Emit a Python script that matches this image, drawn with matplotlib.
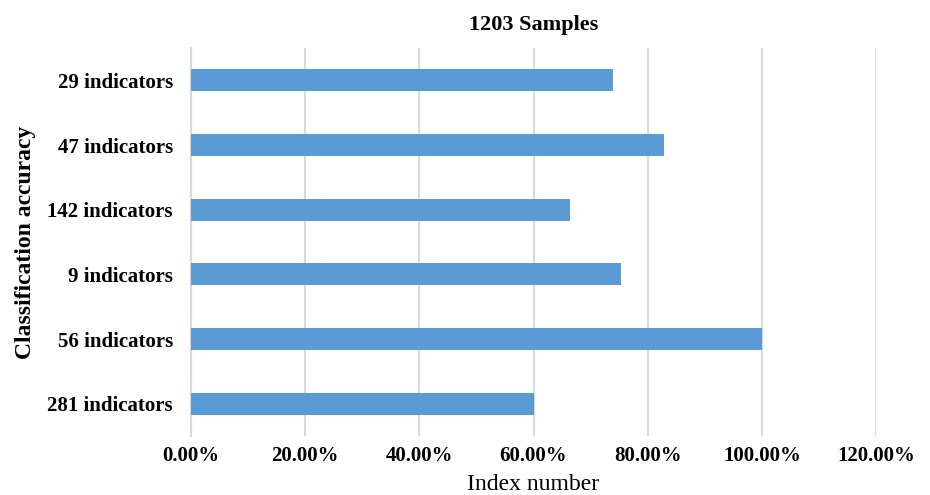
import matplotlib.pyplot as plt
from matplotlib.ticker import PercentFormatter

plt.rcParams['font.family'] = ['Liberation Serif', 'DejaVu Serif']

categories = ["29 indicators", "47 indicators", "142 indicators",
              "9 indicators", "56 indicators", "281 indicators"]
accuracy = [0.740, 0.829, 0.663, 0.753, 1.000, 0.600]
x_ticks = [0, 0.2, 0.4, 0.6, 0.8, 1.0, 1.2]

fig = plt.figure(figsize=(9.3, 4.95), dpi=100)
ax = fig.add_axes([0.2054, 0.119, 0.7366, 0.784])

ypos = list(range(len(categories)))
ax.barh(ypos, accuracy, height=0.34, color="#5B9BD5", zorder=3)
ax.set_yticks(ypos)
ax.set_yticklabels(categories, fontweight="bold", fontsize=15)
ax.set_ylim(len(categories) - 0.5, -0.5)

ax.set_xlim(0, 1.2)
ax.set_xticks(x_ticks)
ax.xaxis.set_major_formatter(PercentFormatter(1.0, decimals=2))
for lab in ax.get_xticklabels():
    lab.set_fontweight("bold")
    lab.set_fontsize(15)

ax.grid(axis="x", color="#D9D9D9", linewidth=1.5, zorder=0)
for s in ("top", "right", "bottom"):
    ax.spines[s].set_visible(False)
ax.spines["left"].set_color("#D9D9D9")
ax.spines["left"].set_linewidth(1.5)
ax.tick_params(axis="y", length=0, pad=13)
ax.tick_params(axis="x", length=0, pad=7)

ax.set_title("1203 Samples", fontweight="bold", fontsize=16, pad=13)
ax.set_xlabel("Index number", fontsize=17, labelpad=6)
ax.set_ylabel("Classification accuracy", fontweight="bold", fontsize=17, labelpad=8)

fig.savefig("out.png", dpi=100)
